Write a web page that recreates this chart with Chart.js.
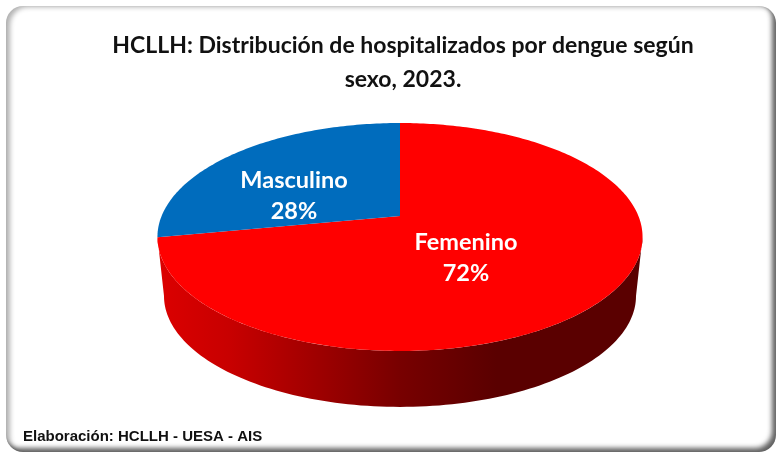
<!DOCTYPE html>
<html>
<head>
<meta charset="utf-8">
<script src="https://cdn.jsdelivr.net/npm/chart.js@4/dist/chart.umd.min.js"></script>
<style>
  html, body { margin: 0; padding: 0; background: #fff; }
  #frame {
    position: absolute; left: 6px; top: 6px; width: 770px; height: 446px;
    border-radius: 17px; background: #fff;
    box-shadow: inset -4px -4px 5px rgba(0,0,0,.62), inset 5px 2px 5px -1px rgba(0,0,0,.3);
  }
  canvas { position: absolute; left: 0; top: 0; }
</style>
</head>
<body>
<div id="frame"></div>
<canvas id="pieChart" width="779" height="455"></canvas>
<script>
const categories = ["Femenino", "Masculino"];
const percentages = [72, 28];
const sliceColors = ["#ff0000", "#006cbd"];
const titleLines = ["HCLLH: Distribución de hospitalizados por dengue según", "sexo, 2023."];
const sourceNote = "Elaboración: HCLLH - UESA - AIS";

// the original is a tilted 3D pie, so the arcs go through a perspective map
const view = { cx: 400, cy: 216, rx: 238.4, ry: 110.1, tilt: 0.1842, baseScale: 0.973, baseY: 275.6 };
const labelSpots = [{ x: 466, y: 242 }, { x: 294, y: 180 }];

function topPoint(a) {
  const w = 1 - view.tilt * Math.sin(a);
  return [view.cx + view.rx * Math.cos(a) / w, view.cy + view.ry * Math.sin(a) / w];
}
function basePoint(a) {
  const w = 1 - view.tilt * Math.sin(a);
  const s = view.baseScale;
  return [view.cx + s * view.rx * Math.cos(a) / w, view.baseY + s * view.ry * Math.sin(a) / w];
}

const tiltedPie = {
  id: "tiltedPie",
  beforeDatasetsDraw(chart) {
    const ctx = chart.ctx;
    const arcs = chart.getDatasetMeta(0).data;

    // side wall, only the part facing the viewer
    const from = Math.asin(view.tilt);
    const to = Math.PI - from;
    const steps = 120;
    ctx.beginPath();
    for (let i = 0; i <= steps; i++) {
      const p = topPoint(from + (to - from) * i / steps);
      i ? ctx.lineTo(p[0], p[1]) : ctx.moveTo(p[0], p[1]);
    }
    for (let i = steps; i >= 0; i--) {
      const p = basePoint(from + (to - from) * i / steps);
      ctx.lineTo(p[0], p[1]);
    }
    ctx.closePath();
    const grad = ctx.createLinearGradient(157, 0, 642, 0);
    grad.addColorStop(0, "#dc0000");
    grad.addColorStop(0.15, "#c80000");
    grad.addColorStop(0.36, "#980000");
    grad.addColorStop(0.5, "#780000");
    grad.addColorStop(0.7, "#5a0000");
    grad.addColorStop(1, "#5a0000");
    ctx.fillStyle = grad;
    ctx.fill();

    // top face, one slice per arc of the chart
    arcs.forEach((arc, i) => {
      const props = arc.getProps(["startAngle", "endAngle"], true);
      const n = Math.ceil((props.endAngle - props.startAngle) * 60);
      ctx.beginPath();
      ctx.moveTo(view.cx, view.cy);
      for (let j = 0; j <= n; j++) {
        const p = topPoint(props.startAngle + (props.endAngle - props.startAngle) * j / n);
        ctx.lineTo(p[0], p[1]);
      }
      ctx.closePath();
      ctx.fillStyle = arc.options.backgroundColor;
      ctx.fill();
    });

    // slice labels
    ctx.fillStyle = "#fff";
    ctx.textAlign = "center";
    ctx.textBaseline = "middle";
    ctx.font = "bold 23.5px Lato";
    categories.forEach((name, i) => {
      ctx.fillText(name, labelSpots[i].x, labelSpots[i].y);
      ctx.fillText(percentages[i] + "%", labelSpots[i].x, labelSpots[i].y + 31);
    });

    // source note
    ctx.fillStyle = "#111";
    ctx.textAlign = "left";
    ctx.font = "bold 15px 'Liberation Sans'";
    ctx.fillText(sourceNote, 23, 437);
    return false;
  }
};

new Chart(document.getElementById("pieChart"), {
  type: "pie",
  data: {
    labels: categories,
    datasets: [{ data: percentages, backgroundColor: sliceColors, borderWidth: 0 }]
  },
  options: {
    responsive: false,
    animation: false,
    layout: { padding: { left: 27 } },
    plugins: {
      legend: { display: false },
      tooltip: { enabled: false },
      title: {
        display: true,
        text: titleLines,
        color: "#111",
        font: { family: "Lato", size: 23, weight: "bold", lineHeight: 1.5 },
        padding: { top: 28, bottom: 10 }
      }
    }
  },
  plugins: [tiltedPie]
});
</script>
</body>
</html>
